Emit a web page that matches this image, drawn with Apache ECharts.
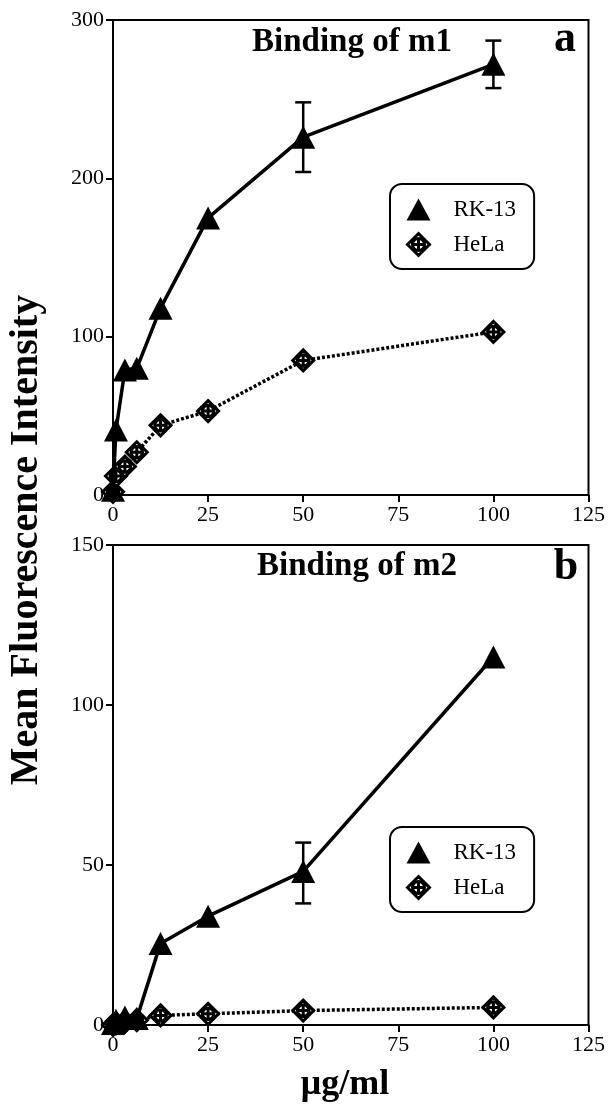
<!DOCTYPE html>
<html>
<head>
<meta charset="utf-8">
<script src="https://cdn.jsdelivr.net/npm/echarts@6/dist/echarts.min.js"></script>
<style>
  html, body { margin: 0; padding: 0; background: #fff; }
  #chart { width: 608px; height: 1106px; }
</style>
</head>
<body>
<div id="chart"></div>
<script>
// concentrations (µg/ml)
const doses = [0, 0.78, 3.125, 6.25, 12.5, 25, 50, 100];
// panel a: binding of m1
const rk13M1 = [3, 41, 79, 80, 118, 175, 226, 272];
const helaM1 = [2, 12, 18, 27, 44, 53, 85, 103];
const errM1Dose = [50, 100];
const errM1Low = [204, 257];
const errM1High = [248, 287];
// panel b: binding of m2
const rk13M2 = [0.5, 1.5, 2.5, 2, 25.5, 34, 48, 115];
const helaM2 = [0, 0.5, 1, 1.5, 3, 3.5, 4.5, 5.5];
const errM2Dose = [50];
const errM2Low = [38];
const errM2High = [57];

const serif = '"Liberation Serif", "Times New Roman", serif';
const helaIcon = 'path://M10,0 L20,10 L10,20 L0,10 Z M10,4.5 A5.5,5.5 0 1,1 9.99,4.5 Z M10,3.5 L10,16.5 M3.5,10 L16.5,10';

const chart = echarts.init(document.getElementById('chart'));

const pairs = (xs, ys) => xs.map((x, i) => [x, ys[i]]);
const errData = (xs, lo, hi) => xs.map((x, i) => [x, lo[i], hi[i]]);

// error bar: vertical line plus two caps
function errBar(params, api) {
  const lo = api.coord([api.value(0), api.value(1)]);
  const hi = api.coord([api.value(0), api.value(2)]);
  const st = { stroke: '#000', lineWidth: 2.5 };
  return {
    type: 'group',
    children: [
      { type: 'line', shape: { x1: lo[0], y1: lo[1], x2: hi[0], y2: hi[1] }, style: st },
      { type: 'line', shape: { x1: lo[0] - 8, y1: lo[1], x2: lo[0] + 8, y2: lo[1] }, style: st },
      { type: 'line', shape: { x1: hi[0] - 8, y1: hi[1], x2: hi[0] + 8, y2: hi[1] }, style: st }
    ]
  };
}

function xAxisCfg(idx) {
  return {
    gridIndex: idx, type: 'value', min: 0, max: 125, interval: 25,
    axisLine: { lineStyle: { color: '#000', width: 2 } },
    axisTick: { length: 7, lineStyle: { color: '#000', width: 2 } },
    axisLabel: { color: '#000', fontFamily: serif, fontSize: 22, margin: 9 },
    splitLine: { show: false }
  };
}
function yAxisCfg(idx, max, step) {
  return {
    gridIndex: idx, type: 'value', min: 0, max: max, interval: step,
    axisLine: { show: true, lineStyle: { color: '#000', width: 2 } },
    axisTick: { show: true, length: 7, lineStyle: { color: '#000', width: 2 } },
    axisLabel: { color: '#000', fontFamily: serif, fontSize: 22, margin: 9 },
    splitLine: { show: false }
  };
}

function rkSeries(idx, data) {
  return {
    name: 'RK-13', type: 'line', xAxisIndex: idx, yAxisIndex: idx,
    data: data, symbol: 'triangle', symbolSize: [24, 23], showAllSymbol: true,
    lineStyle: { color: '#000', width: 3.5 },
    itemStyle: { color: '#000' }, z: 4
  };
}
function helaSeries(idx, data) {
  return {
    name: 'HeLa', type: 'line', xAxisIndex: idx, yAxisIndex: idx,
    data: data, symbol: helaIcon, symbolSize: 21, symbolKeepAspect: true, showAllSymbol: true,
    lineStyle: { color: '#000', width: 3.5, type: [3, 2] },
    itemStyle: { color: '#fff', borderColor: '#000', borderWidth: 3 }, z: 3
  };
}

function legendCfg(top) {
  return {
    orient: 'vertical', left: 390, top: top,
    padding: [14, 18, 12, 16], itemGap: 11, itemWidth: 24, itemHeight: 22,
    borderColor: '#000', borderWidth: 2, borderRadius: 12,
    textStyle: { color: '#000', fontFamily: serif, fontSize: 23, padding: [0, 0, 0, 18] },
    data: [
      { name: 'RK-13', icon: 'triangle', itemStyle: { color: '#000' } },
      { name: 'HeLa', icon: helaIcon, itemStyle: { color: '#fff', borderColor: '#000', borderWidth: 3 } }
    ],
    selectedMode: false
  };
}

function label(text, x, y, size, rot) {
  return {
    type: 'text', x: x, y: y, rotation: rot || 0,
    style: {
      text: text, fill: '#000', fontFamily: serif, fontWeight: 'bold', fontSize: size,
      textAlign: 'center', textVerticalAlign: 'middle'
    }
  };
}

chart.setOption({
  animation: false,
  backgroundColor: '#fff',
  grid: [
    { left: 113, right: 16, top: 20, height: 475, show: true, borderColor: '#000', borderWidth: 2 },
    { left: 113, right: 16, top: 545, height: 480, show: true, borderColor: '#000', borderWidth: 2 }
  ],
  xAxis: [xAxisCfg(0), xAxisCfg(1)],
  yAxis: [yAxisCfg(0, 300, 100), yAxisCfg(1, 150, 50)],
  legend: [legendCfg(184), legendCfg(827)],
  graphic: [
    label('Binding of m1', 352, 42, 33),
    label('a', 565, 40, 44),
    label('Binding of m2', 357, 566, 33),
    label('b', 566, 568, 44),
    label('Mean Fluorescence Intensity', 27, 540, 40, Math.PI / 2),
    label('μg/ml', 345, 1085, 36)
  ],
  series: [
    {
      type: 'custom', xAxisIndex: 0, yAxisIndex: 0, renderItem: errBar,
      data: errData(errM1Dose, errM1Low, errM1High), encode: { x: 0, y: [1, 2] }, z: 2
    },
    helaSeries(0, pairs(doses, helaM1)),
    rkSeries(0, pairs(doses, rk13M1)),
    {
      type: 'custom', xAxisIndex: 1, yAxisIndex: 1, renderItem: errBar,
      data: errData(errM2Dose, errM2Low, errM2High), encode: { x: 0, y: [1, 2] }, z: 2
    },
    helaSeries(1, pairs(doses, helaM2)),
    rkSeries(1, pairs(doses, rk13M2))
  ]
});
</script>
</body>
</html>
